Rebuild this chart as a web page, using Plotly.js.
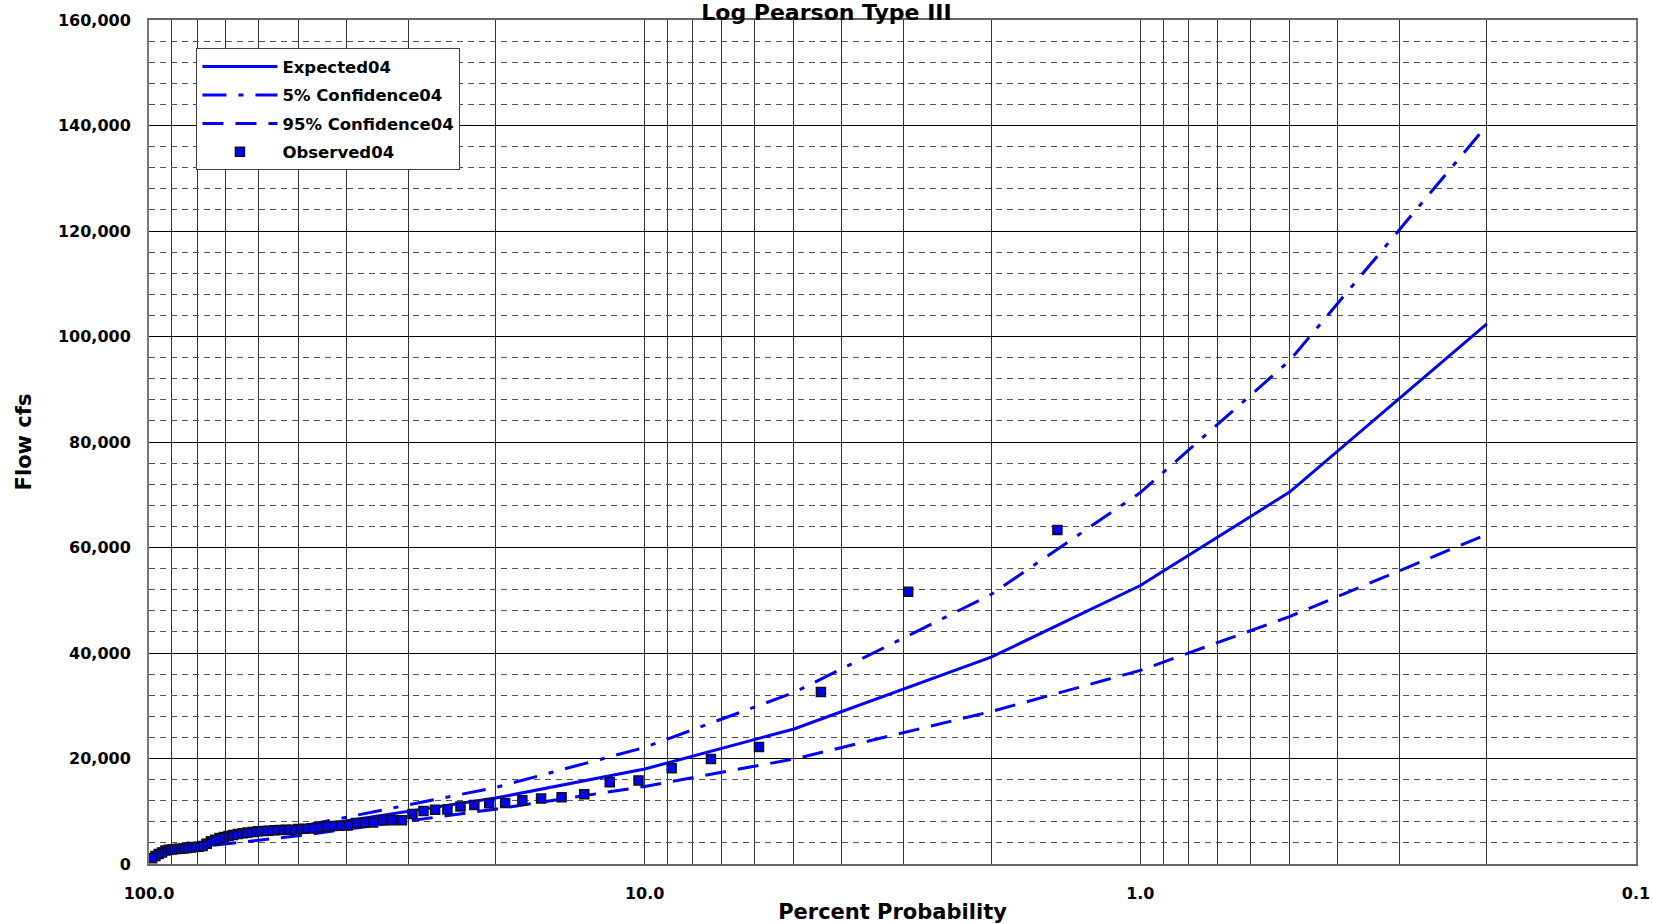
<!DOCTYPE html>
<html>
<head>
<meta charset="utf-8">
<script src="https://cdn.plot.ly/plotly-3.0.1.min.js"></script>
<style>
  html, body { margin: 0; padding: 0; background: #ffffff; }
  #chart { width: 1653px; height: 924px; }
</style>
</head>
<body>
<div id="chart"></div>
<script>
// ---- data ----
const chartTitle = "Log Pearson Type III";
const xTitle = "Percent Probability";
const yTitle = "Flow cfs";

const curveProbability = [99, 95, 90, 80, 50, 20, 10, 5, 2, 1, 0.5, 0.2];
const expected04 = [1400, 2500, 3000, 3800, 6800, 12500, 18000, 25600, 39200, 52800, 70500, 102400];
const confidence5_04 = [1700, 2900, 3400, 4300, 7050, 14500, 22100, 32500, 51100, 70400, 95400, 140000];
const confidence95_04 = [1200, 2100, 2600, 3200, 5350, 10400, 14700, 19900, 28900, 36700, 46900, 62500];

const observedProbability = [
  1.47, 2.94, 4.41, 5.88, 7.35, 8.82, 10.29, 11.76, 13.24, 14.71,
  16.18, 17.65, 19.12, 20.59, 22.06, 23.53, 25.00, 26.47, 27.94, 29.41,
  30.88, 32.35, 33.82, 35.29, 36.76, 38.24, 39.71, 41.18, 42.65, 44.12,
  45.59, 47.06, 48.53, 50.00, 51.47, 52.94, 54.41, 55.88, 57.35, 58.82,
  60.29, 61.76, 63.24, 64.71, 66.18, 67.65, 69.12, 70.59, 72.06, 73.53,
  75.00, 76.47, 77.94, 79.41, 80.88, 82.35, 83.82, 85.29, 86.76, 88.24,
  89.71, 91.18, 92.65, 94.12, 95.59, 97.06, 98.53
];
const observed04 = [
  63300, 51600, 32600, 22200, 19900, 18150, 15850, 15500, 13200, 12650,
  12400, 12100, 11550, 11500, 11200, 10900, 10350, 10300, 10050, 9500,
  8300, 8300, 8280, 7850, 7800, 7750, 7300, 7250, 7200, 7100,
  6900, 6750, 6700, 6650, 6500, 6480, 6450, 6400, 6300, 6250,
  6200, 6050, 5950, 5850, 5700, 5500, 5300, 5100, 4950, 4600,
  4300, 3850, 3400, 3250, 3200, 3150, 3050, 2950, 2900, 2850,
  2750, 2700, 2550, 2200, 1900, 1500, 1100
];

const xTickVals = [100, 10, 1, 0.1];
const xTickText = ["100.0", "10.0", "1.0", "0.1"];
const xMinorVals = [90, 80, 70, 60, 50, 40, 30, 20, 9, 8, 7, 6, 5, 4, 3, 2, 0.9, 0.8, 0.7, 0.6, 0.5, 0.4, 0.3, 0.2];

// ---- chart ----
const FONT = "DejaVu Sans, Arial, sans-serif";
const BLUE = "#0000ff";

const traces = [
  {
    name: "Expected04", x: curveProbability, y: expected04,
    type: "scatter", mode: "lines", legendgroup: "a",
    line: { color: BLUE, width: 3 }
  },
  {
    name: "5% Confidence04", x: curveProbability, y: confidence5_04,
    type: "scatter", mode: "lines", legendgroup: "b",
    line: { color: BLUE, width: 3, dash: "24px,12px,5px,12px" }
  },
  {
    name: "95% Confidence04", x: curveProbability, y: confidence95_04,
    type: "scatter", mode: "lines", legendgroup: "c",
    line: { color: BLUE, width: 3, dash: "21px,12px" }
  },
  {
    name: "Observed04", x: observedProbability, y: observed04,
    type: "scatter", mode: "markers", legendgroup: "d",
    marker: { symbol: "square", size: 9, color: BLUE, line: { color: "#111", width: 1.5 } }
  }
];

const layout = {
  width: 1653, height: 924,
  paper_bgcolor: "#ffffff", plot_bgcolor: "#ffffff",
  margin: { l: 149, r: 17, t: 20, b: 60, pad: 0 },
  font: { family: FONT, size: 16, color: "#000", weight: "bold" },
  title: {
    text: chartTitle,
    font: { family: FONT, size: 22, color: "#000", weight: "bold" },
    x: 0.5, xref: "container", xanchor: "center",
    y: 0.9867, yref: "container", yanchor: "middle"
  },
  showlegend: true,
  legend: {
    x: 0.0319, y: 0.9665, xanchor: "left", yanchor: "top",
    bgcolor: "#ffffff", bordercolor: "#404040", borderwidth: 1,
    font: { family: FONT, size: 16.5, color: "#000", weight: "bold" },
    traceorder: "grouped", tracegroupgap: 4, itemwidth: 75
  },
  xaxis: {
    type: "log",
    range: [2, -1],
    tickmode: "array", tickvals: xTickVals, ticktext: xTickText,
    ticks: "", ticklabelstandoff: 14,
    tickfont: { family: FONT, size: 16, color: "#000", weight: "bold" },
    showgrid: true, gridcolor: "#333", gridwidth: 1,
    minor: { tickmode: "array", tickvals: xMinorVals, showgrid: true, gridcolor: "#333", gridwidth: 1, ticks: "" },
    showline: true, linecolor: "#666", linewidth: 2, mirror: true,
    zeroline: false,
    title: { text: xTitle, font: { family: FONT, size: 21, color: "#000", weight: "bold" }, standoff: 2 }
  },
  yaxis: {
    range: [0, 160000],
    tickmode: "linear", tick0: 0, dtick: 20000,
    tickformat: ",d",
    ticks: "", ticklabelstandoff: 13,
    tickfont: { family: FONT, size: 16, color: "#000", weight: "bold" },
    showgrid: true, gridcolor: "#000", gridwidth: 1,
    minor: { tickmode: "linear", dtick: 4000, showgrid: true, gridcolor: "#555", gridwidth: 1, griddash: "6px,5px", ticks: "" },
    showline: true, linecolor: "#777", linewidth: 2, mirror: true,
    zeroline: false,
    title: { text: yTitle, font: { family: FONT, size: 21, color: "#000", weight: "bold" }, standoff: 21 }
  }
};

Plotly.newPlot("chart", traces, layout, { displayModeBar: false, staticPlot: true });
</script>
</body>
</html>
